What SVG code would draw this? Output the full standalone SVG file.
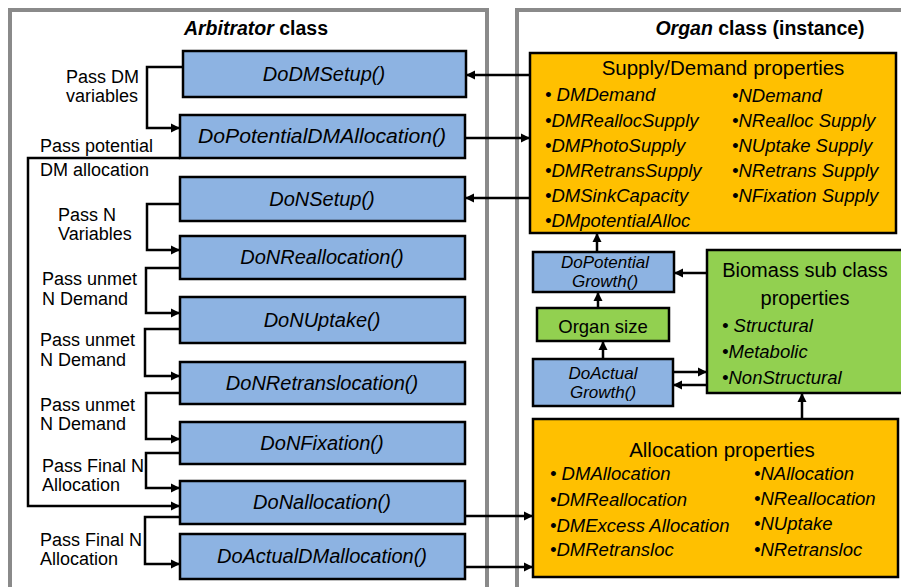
<svg xmlns="http://www.w3.org/2000/svg" width="901" height="587" viewBox="0 0 901 587">
<style>
text{font-family:"Liberation Sans",Arial,sans-serif;fill:#000}
.panel{fill:none;stroke:#8a8a8a;stroke-width:4}
.blue{fill:#8DB3E2;stroke:#000;stroke-width:2.5}
.orange{fill:#FFC000;stroke:#000;stroke-width:2.5}
.green{fill:#92D050;stroke:#000;stroke-width:2.5}
.title{font-size:19.5px;font-weight:bold;text-anchor:middle}
.fn{font-size:20px;font-style:italic;text-anchor:middle}
.lbl{font-size:18px}
.hd{font-size:20.5px;text-anchor:middle}
.it{font-size:18.5px;font-style:italic}
.sm{font-size:17px;font-style:italic;text-anchor:middle}
.con path{fill:none;stroke:#000;stroke-width:2.5;marker-end:url(#ah)}
</style>
<defs>
<marker id="ah" markerUnits="userSpaceOnUse" markerWidth="10" markerHeight="10" refX="9" refY="5" orient="auto">
<path d="M0,0.5 L9,5 L0,9.5 z" fill="#000"/>
</marker>
</defs>
<rect width="901" height="587" fill="#fff"/>
<rect class="panel" x="10" y="10" width="477" height="600"/>
<rect class="panel" x="517" y="10" width="400" height="600"/>
<text class="title" x="256" y="35"><tspan font-style="italic">Arbitrator</tspan> class</text>
<text class="title" x="760" y="35"><tspan font-style="italic">Organ</tspan> class (instance)</text>

<g id="DoDMSetup"><rect class="blue" x="183" y="51" width="283" height="46"/><text class="fn" x="324" y="81">DoDMSetup()</text></g>
<g id="DoPotentialDMAllocation"><rect class="blue" x="180" y="115" width="285" height="43"/><text class="fn" x="322" y="143" textLength="248" lengthAdjust="spacingAndGlyphs">DoPotentialDMAllocation()</text></g>
<g id="DoNSetup"><rect class="blue" x="180" y="177" width="285" height="44"/><text class="fn" x="322" y="206">DoNSetup()</text></g>
<g id="DoNReallocation"><rect class="blue" x="180" y="236" width="285" height="43"/><text class="fn" x="322" y="264">DoNReallocation()</text></g>
<g id="DoNUptake"><rect class="blue" x="180" y="297" width="285" height="46"/><text class="fn" x="322" y="327">DoNUptake()</text></g>
<g id="DoNRetranslocation"><rect class="blue" x="180" y="362" width="285" height="42"/><text class="fn" x="322" y="390">DoNRetranslocation()</text></g>
<g id="DoNFixation"><rect class="blue" x="180" y="422" width="285" height="42"/><text class="fn" x="322" y="450">DoNFixation()</text></g>
<g id="DoNallocation"><rect class="blue" x="180" y="481" width="285" height="43"/><text class="fn" x="322" y="509">DoNallocation()</text></g>
<g id="DoActualDMallocation"><rect class="blue" x="180" y="534" width="285" height="45"/><text class="fn" x="322" y="563">DoActualDMallocation()</text></g>

<g id="SupplyDemand"><rect class="orange" x="530" y="53" width="366" height="180"/>
<text class="hd" x="723" y="75">Supply/Demand properties</text>
<text class="it"><tspan x="545" y="101">• DMDemand</tspan><tspan x="545" y="127">•DMReallocSupply</tspan><tspan x="545" y="152">•DMPhotoSupply</tspan><tspan x="545" y="177">•DMRetransSupply</tspan><tspan x="545" y="202">•DMSinkCapacity</tspan><tspan x="545" y="227">•DMpotentialAlloc</tspan></text>
<text class="it"><tspan x="732" y="102">•NDemand</tspan><tspan x="732" y="127">•NRealloc Supply</tspan><tspan x="732" y="152">•NUptake Supply</tspan><tspan x="732" y="177">•NRetrans Supply</tspan><tspan x="732" y="202">•NFixation Supply</tspan></text>
</g>
<g id="DoPotentialGrowth"><rect class="blue" x="533" y="252" width="141" height="40"/><text class="sm"><tspan x="605" y="268">DoPotential</tspan><tspan x="605" y="287">Growth()</tspan></text></g>
<g id="OrganSize"><rect class="green" x="537" y="308" width="132" height="33"/><text class="hd" x="603" y="333" style="font-size:18.5px">Organ size</text></g>
<g id="DoActualGrowth"><rect class="blue" x="533" y="359" width="140" height="47"/><text class="sm"><tspan x="603" y="379">DoActual</tspan><tspan x="603" y="398">Growth()</tspan></text></g>
<g id="Biomass"><rect class="green" x="707" y="250" width="200" height="143"/>
<text class="hd" style="font-size:20px"><tspan x="805" y="277">Biomass sub class</tspan><tspan x="805" y="305">properties</tspan></text>
<text class="it"><tspan x="722" y="332">• Structural</tspan><tspan x="722" y="358">•Metabolic</tspan><tspan x="722" y="384">•NonStructural</tspan></text>
</g>
<g id="Allocation"><rect class="orange" x="533" y="419" width="365" height="158"/>
<text class="hd" x="722" y="457">Allocation properties</text>
<text class="it"><tspan x="550" y="480">• DMAllocation</tspan><tspan x="550" y="506">•DMReallocation</tspan><tspan x="550" y="532">•DMExcess Allocation</tspan><tspan x="550" y="556">•DMRetransloc</tspan></text>
<text class="it"><tspan x="754" y="480">•NAllocation</tspan><tspan x="754" y="505">•NReallocation</tspan><tspan x="754" y="530">•NUptake</tspan><tspan x="754" y="556">•NRetransloc</tspan></text>
</g>

<g id="labels" class="lbl">
<text class="lbl"><tspan x="66" y="83">Pass DM</tspan><tspan x="66" y="102">variables</tspan></text>
<text class="lbl"><tspan x="40" y="152">Pass potential</tspan><tspan x="40" y="176">DM allocation</tspan></text>
<text class="lbl"><tspan x="58" y="221">Pass N</tspan><tspan x="58" y="240">Variables</tspan></text>
<text class="lbl"><tspan x="42" y="285">Pass unmet</tspan><tspan x="42" y="305">N Demand</tspan></text>
<text class="lbl"><tspan x="40" y="346">Pass unmet</tspan><tspan x="40" y="366">N Demand</tspan></text>
<text class="lbl"><tspan x="40" y="411">Pass unmet</tspan><tspan x="40" y="430">N Demand</tspan></text>
<text class="lbl"><tspan x="42" y="472">Pass Final N</tspan><tspan x="42" y="491">Allocation</tspan></text>
<text class="lbl"><tspan x="40" y="546">Pass Final N</tspan><tspan x="40" y="565">Allocation</tspan></text>
</g>

<g id="connectors" class="con">
<path d="M183,67 H147 V128 H180"/>
<path d="M180,158 H28 V506 H180"/>
<path d="M180,204 H147 V250 H180"/>
<path d="M180,268 H146 V313 H180"/>
<path d="M180,329 H145 V376 H180"/>
<path d="M180,393 H146 V439 H180"/>
<path d="M180,453 H146 V488 H180"/>
<path d="M180,517 H145 V564 H180"/>
<path d="M530,75 H466"/>
<path d="M465,138 H530"/>
<path d="M530,198 H465"/>
<path d="M465,516 H533"/>
<path d="M465,567 H533"/>
<path d="M597,252 V233"/>
<path d="M598,308 V292"/>
<path d="M603,359 V341"/>
<path d="M707,273 H674"/>
<path d="M673,372 H707"/>
<path d="M707,385 H673"/>
<path d="M802,419 V393"/>
</g>
</svg>
